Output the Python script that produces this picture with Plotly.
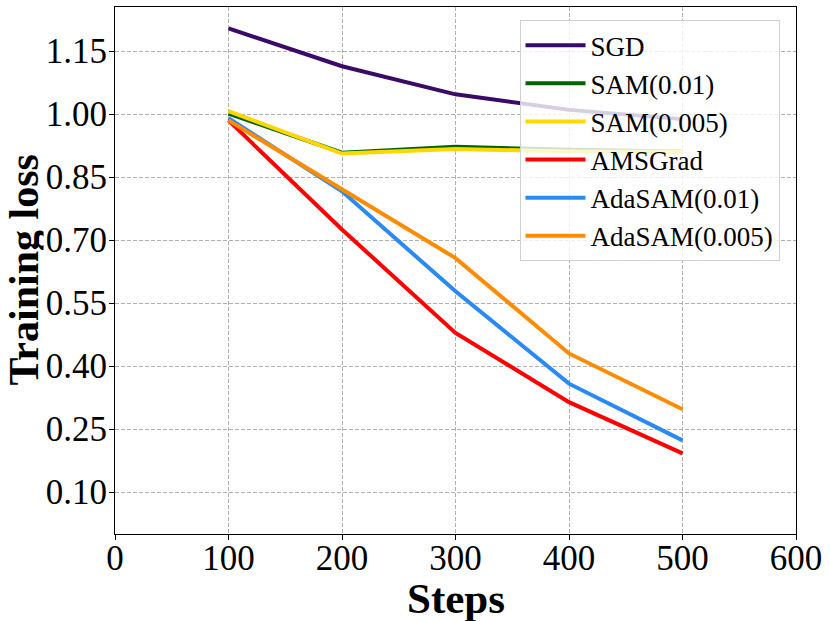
import plotly.graph_objects as go

steps = [100, 200, 300, 400, 500]

sgd = [1.204, 1.114, 1.047, 1.010, 0.988]
sam_001 = [1.001, 0.908, 0.922, 0.915, 0.911]
sam_0005 = [1.007, 0.906, 0.917, 0.911, 0.910]
amsgrad = [0.985, 0.725, 0.479, 0.314, 0.192]
adasam_001 = [0.990, 0.816, 0.578, 0.358, 0.223]
adasam_0005 = [0.985, 0.821, 0.657, 0.430, 0.297]

names = ['SGD', 'SAM(0.01)', 'SAM(0.005)', 'AMSGrad', 'AdaSAM(0.01)', 'AdaSAM(0.005)']
colors = ['#3b0a66', '#006400', '#ffd700', '#ff0000', '#2b8af2', '#ff8c00']
series = [sgd, sam_001, sam_0005, amsgrad, adasam_001, adasam_0005]

font = 'Liberation Serif'

fig = go.Figure()
for name, col, vals in zip(names, colors, series):
    fig.add_trace(go.Scatter(x=steps, y=vals, mode='lines', name=name,
                             line=dict(color=col, width=4)))

axis_style = dict(showline=True, linecolor='black', linewidth=1.2, mirror=True,
                  ticks='outside', ticklen=5, tickcolor='black', automargin=False,
                  showgrid=True, gridcolor='#b0b0b0', gridwidth=0.8, griddash='4px,2px',
                  zeroline=False, tickfont=dict(family=font, size=35, color='black'))

fig.update_xaxes(range=[0, 600], tickvals=[0, 100, 200, 300, 400, 500, 600],
                 ticklabelstandoff=-12, **axis_style)
fig.update_yaxes(range=[0.0, 1.255], tickvals=[0.10, 0.25, 0.40, 0.55, 0.70, 0.85, 1.00, 1.15],
                 tickformat='.2f', ticklabelstandoff=-5, **axis_style)

# axis titles as annotations so they sit where the reference has them
fig.add_annotation(text='<b>Steps</b>', xref='paper', yref='paper', x=0.5, y=-0.122,
                   xanchor='center', yanchor='middle', showarrow=False,
                   font=dict(family=font, size=43, color='black'))
fig.add_annotation(text='<b>Training loss</b>', xref='paper', yref='paper', x=-0.135, y=0.5,
                   xanchor='center', yanchor='middle', textangle=-90, showarrow=False,
                   height=40,
                   font=dict(family=font, size=42, color='black'))

fig.update_layout(
    width=830, height=621,
    margin=dict(l=115, r=34, t=7, b=87),
    plot_bgcolor='white', paper_bgcolor='white',
    legend=dict(x=0.594, y=0.975, xanchor='left', yanchor='top', itemwidth=60,
                bgcolor='rgba(255,255,255,0.8)', bordercolor='#d0d0d0', borderwidth=1,
                font=dict(family=font, size=27, color='black'), tracegroupgap=0),
)

fig.write_html("out.html", config={'displayModeBar': False},
               post_script="document.body.style.margin='0';")
